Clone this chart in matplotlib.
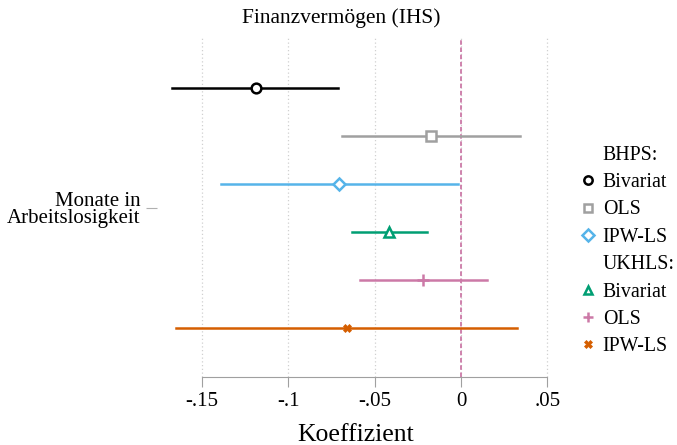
import matplotlib.pyplot as plt
from matplotlib.lines import Line2D

plt.rcParams['font.family'] = ['Liberation Serif', 'DejaVu Serif']

# Daten (Koeffizienten und 95%-KI)
modelle = ['Bivariat', 'OLS', 'IPW-LS', 'Bivariat', 'OLS', 'IPW-LS']
koef = [-0.119, -0.0175, -0.0705, -0.0415, -0.022, -0.066]
ki_unten = [-0.1675, -0.069, -0.139, -0.063, -0.0585, -0.165]
ki_oben = [-0.0715, 0.034, -0.0015, -0.0195, 0.015, 0.0325]
farben = ['black', '#A0A0A0', '#56B4E9', '#009E73', '#CC79A7', '#D55E00']
marker = ['o', 's', 'D', '^', '+', 'X']
xticks = [-0.15, -0.1, -0.05, 0, 0.05]
xticklabels = ['-.15', '-.1', '-.05', '0', '.05']

W, H = 677, 445
fig = plt.figure(figsize=(W / 100, H / 100), dpi=100)
links, rechts, oben, unten = 157, 555, 38, 377
ax = fig.add_axes([links / W, 1 - unten / H, (rechts - links) / W, (unten - oben) / H])

px = 1726.7  # Pixel pro Einheit
ax.set_xlim((links - 461) / px, (rechts - 461) / px)
ax.set_ylim(6 + 49 / 48, 1 - 50 / 48)

for x in xticks:
    ax.axvline(x, color='#D0D0D0', lw=0.9, ls=(0, (1, 2)), zorder=0)
ax.axvline(0, color='#CC79A7', lw=1.3, ls=(0, (2.5, 1.5)), zorder=1)

handles = []
for i in range(len(koef)):
    y = i + 1
    ax.plot([ki_unten[i], ki_oben[i]], [y, y], color=farben[i], lw=1.8, zorder=2)
    if marker[i] == '+':
        ax.plot(koef[i], y, marker='+', color=farben[i], ms=8, mew=1.8, ls='none', zorder=3)
        h = Line2D([], [], marker='+', color=farben[i], ms=7, mew=1.8, ls='none')
    elif marker[i] == 'X':
        ax.plot(koef[i], y, marker='X', color=farben[i], ms=6, mew=0.5, ls='none', zorder=3)
        h = Line2D([], [], marker='X', color=farben[i], ms=6, mew=0.5, ls='none')
    else:
        ax.plot(koef[i], y, marker=marker[i], mfc='white', mec=farben[i], ms=6 if marker[i] == 'D' else 7,
                mew=1.8, ls='none', zorder=3)
        h = Line2D([], [], marker=marker[i], mfc='white', mec=farben[i], ms=6, mew=1.8, ls='none')
    handles.append(h)

leer = Line2D([], [], ls='none', marker='none')
leg_h = [leer] + handles[:3] + [leer] + handles[3:]
leg_l = ['BHPS:'] + modelle[:3] + ['UKHLS:'] + modelle[3:]
ax.legend(leg_h, leg_l, loc='center left', bbox_to_anchor=(571 / W, 1 - 251 / H),
          bbox_transform=fig.transFigure, frameon=False, fontsize=14.3,
          handlelength=0.7, handletextpad=0.4, labelspacing=0.42, borderpad=0)

for s in ['top', 'right', 'left']:
    ax.spines[s].set_visible(False)
ax.spines['bottom'].set_color('#A0A0A0')
ax.spines['bottom'].set_bounds(-0.15, 0.05)
ax.set_xticks(xticks)
ax.set_xticklabels(xticklabels, fontsize=15)
ax.tick_params(axis='x', colors='#A0A0A0', length=7, labelcolor='black', pad=4)
ax.set_yticks([3.5])
ax.set_yticklabels(['Monate in\nArbeitslosigkeit'], fontsize=15, ha='right', linespacing=0.92)
ax.tick_params(axis='y', colors='#B0B0B0', length=8, width=0.8, labelcolor='black', pad=4)
for t in ax.get_yticklabels():
    t.set_multialignment('right')

ax.set_xlabel('Koeffizient', fontsize=18.5, labelpad=9)
fig.text(341 / W, 1 - 18 / H, 'Finanzvermögen (IHS)', fontsize=15.5, ha='center', va='center')

fig.savefig('out.png', dpi=100)
